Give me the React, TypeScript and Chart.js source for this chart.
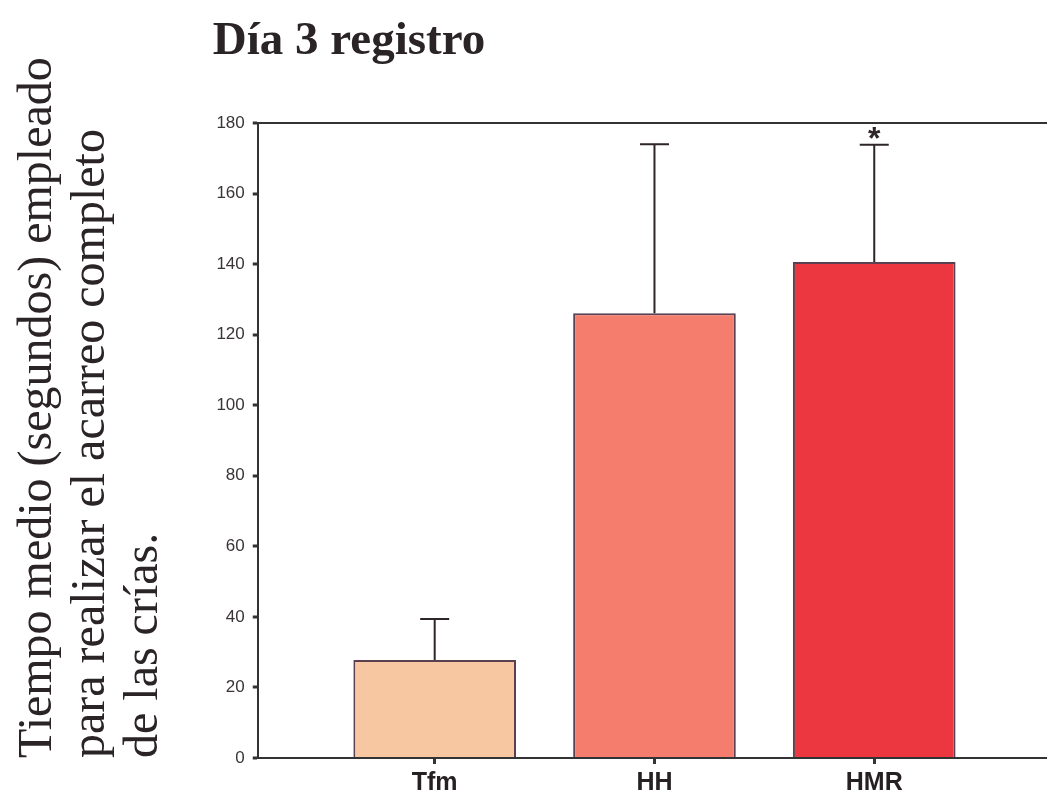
import React, { useEffect, useRef } from "react";
import { Chart, registerables } from "chart.js";

Chart.register(...registerables);

// ---- data ----
const categories: string[] = ["Tfm", "HH", "HMR"];
const means: number[] = [27.8, 126.1, 140.6];
const errors: number[] = [11.6, 47.9, 33.2];
const significance: string[] = ["", "", "*"];
const barColors: string[] = ["#F7C7A1", "#F47D6E", "#EC3640"];
const chartTitle = "Día 3 registro";
const yTitleLines: string[] = [
  "Tiempo medio (segundos) empleado",
  "para realizar el acarreo completo",
  "de las crías.",
];
const yMin = 0;
const yMax = 180;
const yStep = 20;

const SERIF = '"Liberation Serif", "Times New Roman", serif';
const SANS = '"Liberation Sans", Arial, sans-serif';

const errorBarPlugin = {
  id: "errorBars",
  afterDatasetsDraw(chart: any) {
    const meta = chart.getDatasetMeta(0);
    const yScale = chart.scales.y;
    const ctx = chart.ctx;
    ctx.save();
    ctx.strokeStyle = "#2e2528";
    ctx.fillStyle = "#2e2528";
    ctx.lineWidth = 2;
    meta.data.forEach((bar: any, i: number) => {
      const top = yScale.getPixelForValue(means[i] + errors[i]);
      const x = bar.x;
      ctx.beginPath();
      ctx.moveTo(x, bar.y);
      ctx.lineTo(x, top);
      ctx.moveTo(x - 14.5, top);
      ctx.lineTo(x + 14.5, top);
      ctx.stroke();
      if (significance[i]) {
        ctx.font = `bold 32px ${SANS}`;
        ctx.textAlign = "center";
        ctx.textBaseline = "middle";
        ctx.fillText(significance[i], x, top - 5);
      }
    });
    ctx.restore();
  },
};

const titlePlugin = {
  id: "leftTitle",
  afterDraw(chart: any) {
    const ctx = chart.ctx;
    const area = chart.chartArea;
    ctx.save();
    ctx.font = `bold 47px ${SERIF}`;
    ctx.fillStyle = "#2a2426";
    ctx.textAlign = "left";
    ctx.textBaseline = "alphabetic";
    ctx.fillText(chartTitle, area.left - 45, 54);
    ctx.restore();
  },
};

export default function App() {
  const canvasRef = useRef<HTMLCanvasElement | null>(null);

  useEffect(() => {
    if (!canvasRef.current) return;
    const chart = new Chart(canvasRef.current, {
      type: "bar",
      data: {
        datasets: [
          {
            data: means.map((m, i) => ({ x: i, y: m })) as any,
            backgroundColor: barColors,
            borderColor: "#5a4050",
            borderWidth: { top: 2, left: 2, right: 2, bottom: 0 } as any,
            borderSkipped: false,
            categoryPercentage: 1,
            barPercentage: 0.74,
          },
        ],
      },
      options: {
        animation: false,
        responsive: false,
        layout: { padding: { top: 123, right: 0, bottom: 3, left: 0 } },
        plugins: {
          legend: { display: false },
          tooltip: { enabled: false },
          title: { display: false },
        },
        scales: {
          x: {
            type: "linear",
            min: -0.805,
            max: 2.786,
            offset: false,
            afterBuildTicks: (axis: any) => {
              axis.ticks = categories.map((_, i) => ({ value: i }));
            },
            ticks: {
              autoSkip: false,
              maxRotation: 0,
              padding: 4,
              color: "#262022",
              font: { family: SANS, size: 25, weight: "bold" },
              callback: (v: any) => categories[v as number] ?? "",
            },
            grid: {
              display: true,
              offset: false,
              drawOnChartArea: false,
              drawTicks: true,
              tickLength: 6,
              tickWidth: 3,
              tickColor: "#333",
            },
            border: { display: true, color: "#333", width: 2 },
          },
          y: {
            min: yMin,
            max: yMax,
            ticks: {
              stepSize: yStep,
              padding: 8,
              color: "#3a3436",
              font: { family: SANS, size: 17 },
            },
            grid: {
              drawOnChartArea: true,
              color: (c: any) =>
                c.tick && c.tick.value === yMax ? "#333" : "rgba(0,0,0,0)",
              lineWidth: 2,
              drawTicks: true,
              tickLength: 5,
              tickWidth: 3,
              tickColor: "#333",
            },
            border: { display: true, color: "#333", width: 2 },
            title: {
              display: true,
              text: yTitleLines,
              align: "start",
              color: "#2a2426",
              font: { family: SERIF, size: 48, lineHeight: 1.1 },
              padding: { top: 12, bottom: 38 },
            },
          },
        },
      },
      plugins: [errorBarPlugin, titlePlugin],
    });
    return () => chart.destroy();
  }, []);

  return (
    <div
      style={{
        position: "fixed",
        left: 0,
        top: 0,
        width: 1047,
        height: 790,
        overflow: "hidden",
        background: "#fff",
      }}
    >
      <canvas ref={canvasRef} width={1047} height={805} style={{ display: "block" }} />
    </div>
  );
}
